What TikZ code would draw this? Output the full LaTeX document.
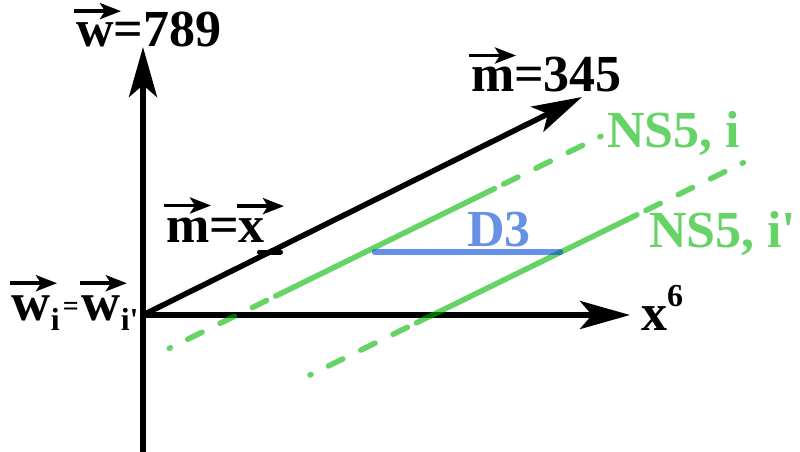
\documentclass[tikz,border=0pt]{standalone}
\usepackage{fontspec}
\setmainfont{Liberation Serif}
\usetikzlibrary{arrows.meta,calc}
\definecolor{nsgreen}{RGB}{0,181,0}
\definecolor{dthree}{RGB}{0,72,210}
\newcommand\vecar[1]{\tikz[baseline=(VL.base)]{\node[inner sep=0pt,outer sep=0pt,anchor=base west](VL) at (0pt,0pt){#1};\draw[overlay,black,line width=3.8pt,line cap=butt,-{Stealth[length=21pt,width=16pt,inset=5pt]}] ([xshift=-2pt,yshift=12pt]VL.north west) -- ++(47pt,0pt);}}
\begin{document}
\begin{tikzpicture}[x=1pt,y=-1pt,
  axis/.style={draw=black,line width=5.5pt,line cap=butt,-{Stealth[length=50pt,width=28pt,inset=12pt]}},
  ticky/.style={draw=black,line width=5pt,line cap=round},
  ns/.style={draw=nsgreen,draw opacity=0.6,line width=5.5pt,line cap=round},
  nsdash/.style={ns,dash pattern=on 1.2pt off 19.3pt on 16pt off 20pt on 16pt off 20pt on 16pt off 100pt},
  dline/.style={draw=dthree,draw opacity=0.6,line width=5.5pt,line cap=round},
  lbl/.style={font=\fontsize{52}{60}\selectfont\bfseries,inner sep=0pt,outer sep=0pt,anchor=base west}]
\useasboundingbox (0,0) rectangle (800,452);
% axes
\coordinate (O) at (143,315);
\coordinate (vbot) at (143,452);
\coordinate (vtop) at (143,47);
\coordinate (htip) at (630,315);
\coordinate (mtip) at (582,97);
\draw[axis,-] (vbot) -- (O);
\draw[axis] (O) -- (vtop);
\draw[axis] (O) -- (htip);
\draw[axis] (O) -- (mtip);
% tick on m
\coordinate (tkl) at (259.5,252);
\coordinate (tkr) at (280.5,252);
\draw[ticky] (tkl) -- (tkr);
% NS5 lines
\coordinate (a0) at (169.3,348.3);
\coordinate (a1) at (601,136.3);
\coordinate (b0) at (310,375);
\coordinate (b1) at (743.3,162.7);
\coordinate (a0s) at ($(a0)!118.5pt!(a1)$);
\coordinate (a1s) at ($(a1)!118.5pt!(a0)$);
\coordinate (b0s) at ($(b0)!118.5pt!(b1)$);
\coordinate (b1s) at ($(b1)!118.5pt!(b0)$);
\draw[nsdash] (a0) -- (a0s);
\draw[ns] (a0s) -- (a1s);
\draw[nsdash] (a1) -- (a1s);
\draw[nsdash] (b0) -- (b0s);
\draw[ns] (b0s) -- (b1s);
\draw[nsdash] (b1) -- (b1s);
% D3
\coordinate (d3l) at (374.5,252);
\coordinate (d3r) at (560.5,252);
\draw[dline] (d3l) -- (d3r);
% labels
\node[lbl] (wlab) at (76,47) {\vecar{w}=789};
\node[lbl] (mlab) at (471,92) {\vecar{m}=345};
\node[lbl] (mxlab) at (166,242) {\vecar{m}=\vecar{x}};
\node[lbl,font=\fontsize{54}{60}\selectfont\bfseries] (wilab) at (12,320) {\vecar{w}\raisebox{-10pt}{\fontsize{32}{36}\selectfont i}\hspace{3pt}\raisebox{5pt}{\fontsize{28}{30}\selectfont =}\hspace{3pt}\vecar{w}\raisebox{-10pt}{\fontsize{32}{36}\selectfont i\textquotesingle}};
\node[lbl] (x6) at (641,330) {x\raisebox{24pt}{\fontsize{32}{36}\selectfont 6}};
\node[lbl,text=dthree,text opacity=0.6] (d3) at (467,246) {D3};
\node[lbl,text=nsgreen,text opacity=0.6] (nsa) at (607,147) {NS5, i};
\node[lbl,text=nsgreen,text opacity=0.6] (nsb) at (649,247) {NS5, i\textquotesingle};
\end{tikzpicture}
\end{document}
